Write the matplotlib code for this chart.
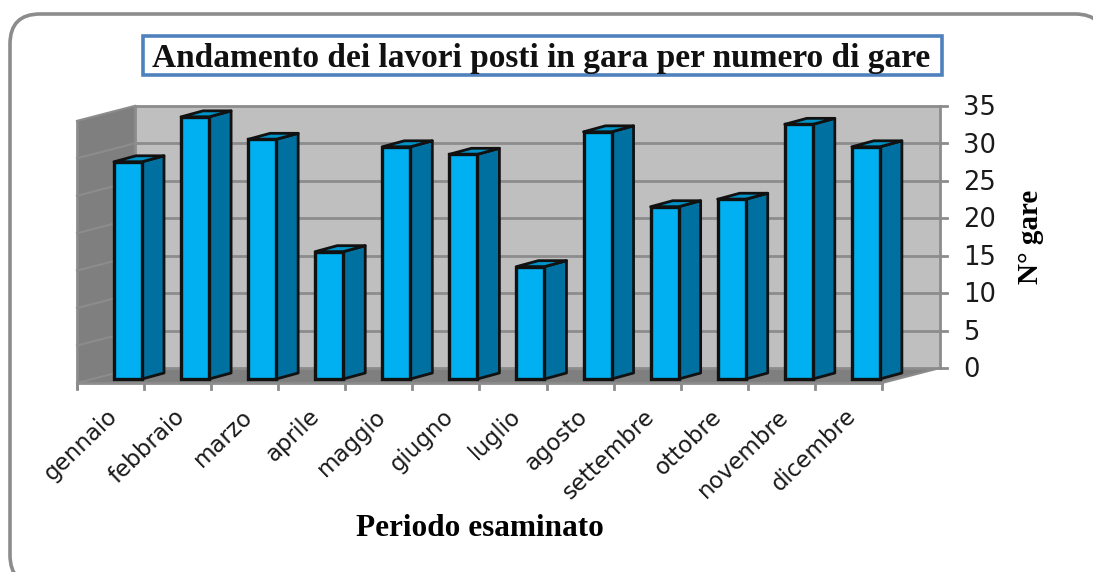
import matplotlib
matplotlib.use("Agg")
import matplotlib.pyplot as plt
from matplotlib.patches import FancyBboxPatch, Polygon, Rectangle

# dati
mesi = ["gennaio", "febbraio", "marzo", "aprile", "maggio", "giugno", "luglio",
        "agosto", "settembre", "ottobre", "novembre", "dicembre"]
gare = [29, 35, 32, 17, 31, 30, 15, 33, 23, 24, 34, 31]
tick_y = [0, 5, 10, 15, 20, 25, 30, 35]

titolo = "Andamento dei lavori posti in gara per numero di gare"
label_x = "Periodo esaminato"
label_y = "N° gare"

# scala del grafico in pixel
W, H = 1093, 572
x0, y0 = 77, 383      # origine piano frontale
px_cat = 67.08        # pixel per categoria
px_val = 7.49         # pixel per unita
dx = 58 / px_cat      # profondita pareti
dy = 15 / px_val
bar_w = 28 / px_cat
bar_dx = 22 / px_cat  # profondita barre
bar_dy = 6 / px_val
bar_x = 37 / px_cat
bar_y = 4 / px_val
y_max = tick_y[-1]
n = len(mesi)

fig = plt.figure(figsize=(W / 100, H / 100), dpi=100)

# sfondo e cornice, in pixel
bg = fig.add_axes([0, 0, 1, 1])
bg.set_xlim(0, W)
bg.set_ylim(H, 0)
bg.axis("off")
bg.add_patch(FancyBboxPatch((40, 44), 1035, 511, boxstyle="round,pad=30,rounding_size=30",
                            fc="white", ec="#8c8c8c", lw=2.6))
bg.add_patch(Rectangle((143, 36), 799, 39, fc="white", ec="#4f81bd", lw=2.6))
bg.text(541, 58, titolo, family="Liberation Serif", weight="bold", fontsize=24,
        ha="center", va="center", color="#111111")

# grafico
ax = fig.add_axes([0, 0, 1, 1])
ax.patch.set_alpha(0)
ax.set_xlim(-x0 / px_cat, (W - x0) / px_cat)
ax.set_ylim((y0 - H) / px_val, y0 / px_val)
ax.axis("off")

# pareti e pavimento
ax.add_patch(Polygon([(dx, dy), (n + dx, dy), (n + dx, y_max + dy), (dx, y_max + dy)], fc="#bfbfbf", ec="none"))
ax.add_patch(Polygon([(0, 0), (dx, dy), (dx, y_max + dy), (0, y_max)], fc="#7f7f7f", ec="none"))
ax.add_patch(Polygon([(0, 0), (n, 0), (n + dx, dy), (dx, dy)], fc="#7f7f7f", ec="none"))

grid_c = "#8c8c8c"
for t in tick_y:
    ax.plot([dx, n + dx], [t + dy, t + dy], color=grid_c, lw=2, zorder=2)
    ax.plot([0, dx], [t, t + dy], color=grid_c, lw=1.5, zorder=2)
    ax.plot([n + dx, n + dx + 0.1], [t + dy, t + dy], color=grid_c, lw=2, zorder=2)
    ax.text(n + dx + 0.34, t + dy - 0.3, str(t), fontsize=18.5, color="#1a1a1a", ha="left", va="center")
ax.plot([dx, dx], [dy, y_max + dy], color=grid_c, lw=2, zorder=2)
ax.plot([n + dx, n + dx], [dy, y_max + dy], color=grid_c, lw=2, zorder=2)
ax.plot([0, 0], [-0.7, y_max], color=grid_c, lw=2, zorder=2)
ax.plot([0, n], [0, 0], color=grid_c, lw=2, zorder=2)
ax.plot([n, n + dx], [0, dy], color=grid_c, lw=1.5, zorder=2)
for i in range(n + 1):
    ax.plot([i, i], [0, -0.8], color=grid_c, lw=2, zorder=2)

# barre 3D
edge = "#111111"
for i, v in enumerate(gare):
    l = i + bar_x
    r = l + bar_w
    top = v + bar_y
    ax.add_patch(Polygon([(r, bar_y), (r + bar_dx, bar_y + bar_dy), (r + bar_dx, top + bar_dy), (r, top)],
                         fc="#0070a0", ec=edge, lw=2, joinstyle="round", zorder=3))
    ax.add_patch(Polygon([(l, top), (r, top), (r + bar_dx, top + bar_dy), (l + bar_dx, top + bar_dy)],
                         fc="#0093c8", ec=edge, lw=2, joinstyle="round", zorder=3))
    ax.bar(l, v, width=bar_w, bottom=bar_y, align="edge", color="#00b0f0", edgecolor=edge, lw=2.4, zorder=4)
    ax.text(i + 0.44, -2.9, mesi[i], rotation=44, rotation_mode="anchor", fontsize=16.5,
            color="#1a1a1a", ha="right", va="top")

bg.text(480, 529, label_x, family="Liberation Serif", weight="bold", fontsize=22.5, ha="center", va="center")
bg.text(1031, 237, label_y, family="Liberation Serif", weight="bold", fontsize=21, rotation=90,
        ha="center", va="center")

fig.savefig("out.png", dpi=100)
